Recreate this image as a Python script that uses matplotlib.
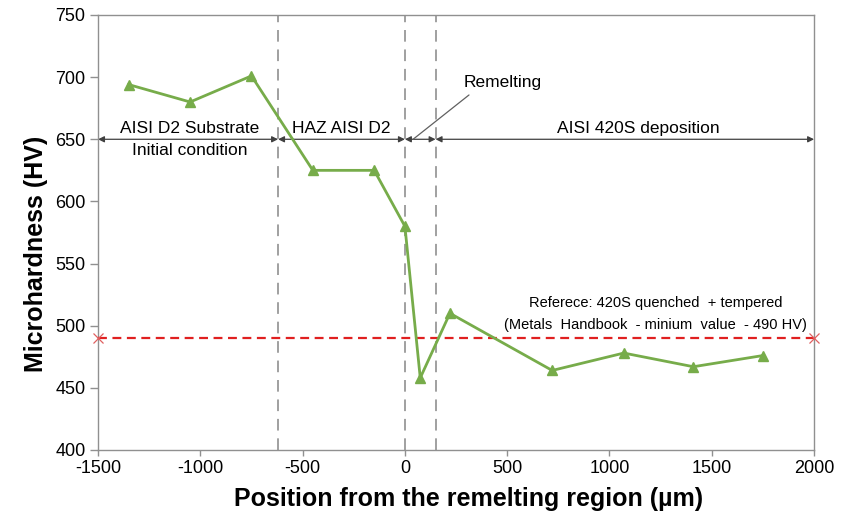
import matplotlib
matplotlib.use("Agg")
import matplotlib.pyplot as plt

plt.rcParams['font.family'] = ['Liberation Sans', 'DejaVu Sans']
plt.rcParams['axes.unicode_minus'] = False

# Microhardness profile across the remelted joint
position_um = [-1350, -1050, -750, -450, -150, 0, 75, 220, 720, 1070, 1410, 1750]
hardness_hv = [694, 680, 701, 625, 625, 580, 458, 510, 464, 478, 467, 476]

# Zone boundaries (µm)
haz_start = -620
remelt_start = 0
deposit_start = 150
x_min, x_max = -1500, 2000

reference_hv = 490

fig = plt.figure(figsize=(8.48, 5.17), dpi=100)
ax = fig.add_axes([0.1156, 0.1296, 0.8444, 0.8414])

ax.plot(position_um, hardness_hv, color='#77AC4A', lw=2, marker='^',
        markersize=7, markerfacecolor='#77AC4A', markeredgecolor='#77AC4A', zorder=4)

# Reference hardness line
ax.plot([x_min, x_max], [reference_hv, reference_hv], color='#E02020', lw=1.6,
        ls=(0, (4, 2.5)), zorder=3)
ax.plot([x_min, x_max], [reference_hv, reference_hv], ls='none', marker='x',
        color='#E06060', markersize=7, mew=0.9, clip_on=False, zorder=5)

# Zone boundary lines
for xb in (haz_start, remelt_start, deposit_start):
    ax.axvline(xb, color='#A0A0A0', lw=1.4, ls=(0, (6, 4)), zorder=1)

# Zone extent arrows
arrow_y = 650
arrow_kw = dict(arrowstyle='<|-|>', color='#404040', lw=0.9,
                mutation_scale=9, shrinkA=0, shrinkB=0)
for a, b in [(x_min, haz_start), (haz_start, remelt_start),
             (remelt_start, deposit_start), (deposit_start, x_max)]:
    ax.annotate('', xy=(a, arrow_y), xytext=(b, arrow_y), arrowprops=arrow_kw, zorder=2)

ax.text(-1050, 653, 'AISI D2 Substrate', ha='center', va='bottom', fontsize=12.5)
ax.text(-1050, 647, 'Initial condition', ha='center', va='top', fontsize=12.5)
ax.text(-310, 653, 'HAZ AISI D2', ha='center', va='bottom', fontsize=12.5)
ax.text(1140, 653, 'AISI 420S deposition', ha='center', va='bottom', fontsize=12.5)
ax.annotate('Remelting', xy=(40, 650), xytext=(480, 696), fontsize=12.5,
            ha='center', va='center',
            arrowprops=dict(arrowstyle='-', color='#606060', lw=0.9,
                            shrinkA=3, shrinkB=0,
                            relpos=(0.15, 0.0)))

ax.text(1225, 518, 'Referece: 420S quenched  + tempered', ha='center', va='center', fontsize=10.5)
ax.text(1225, 500.5, '(Metals  Handbook  - minium  value  - 490 HV)', ha='center', va='center', fontsize=10.5)

ax.set_xlim(x_min, x_max)
ax.set_ylim(400, 750)
ax.set_xticks(range(-1500, 2001, 500))
ax.set_yticks(range(400, 751, 50))

for s in ax.spines.values():
    s.set_color('#909090')
    s.set_linewidth(1.0)
ax.tick_params(axis='both', direction='out', width=1, color='#909090', labelsize=13)
ax.tick_params(axis='x', length=4, pad=3)
ax.tick_params(axis='y', length=6, pad=3)

ax.set_xlabel('Position from the remelting region (µm)', fontsize=18, fontweight='bold')
ax.set_ylabel('Microhardness (HV)', fontsize=18, fontweight='bold')
ax.xaxis.set_label_coords(0.518, -0.085)
ax.yaxis.set_label_coords(-0.07, 0.45)

fig.savefig('out.png', dpi=100)
